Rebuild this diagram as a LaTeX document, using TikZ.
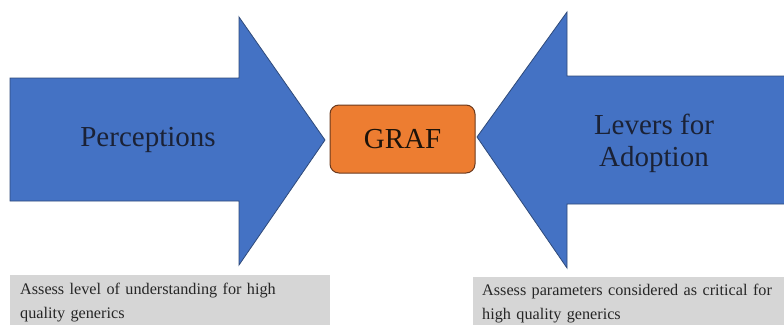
\documentclass[tikz,border=0pt]{standalone}
\usepackage{fontspec}
\setmainfont{Liberation Serif}
\definecolor{arrowblue}{HTML}{4472C4}
\definecolor{arrowedge}{HTML}{2F4A7A}
\definecolor{grafor}{HTML}{ED7D31}
\definecolor{grafedge}{HTML}{6B3A1E}
\definecolor{notegray}{HTML}{D6D6D6}
\definecolor{labelnavy}{HTML}{1B2236}
\tikzset{
  x=1pt, y=-1pt,
  bigarrow/.style={fill=arrowblue, draw=arrowedge, line width=0.8pt, line join=miter},
  arrowlabel/.style={text=labelnavy, font=\fontsize{29}{32}\selectfont, align=center, inner sep=0pt},
  grafbox/.style={fill=grafor, draw=grafedge, line width=1pt, rounded corners=9pt},
  notebox/.style={fill=notegray, draw=none},
  notetext/.style={text=black!85, font=\fontsize{16.2}{24}\selectfont, align=left, anchor=north west, inner sep=0pt, text width=310pt},
}
\begin{document}
\begin{tikzpicture}
\useasboundingbox (0,0) rectangle (784,324);
\fill[white] (0,0) rectangle (784,324);
% left arrow
\draw[bigarrow] (10,78) -- (239,78) -- (239,17) -- (325,140) -- (239,265) -- (239,201) -- (10,201) -- cycle;
\node[arrowlabel] (perc) at (148,140) {Perceptions};
% right arrow
\draw[bigarrow] (786,76) -- (567,76) -- (567,12) -- (477,137) -- (567,268) -- (567,204) -- (786,204) -- cycle;
\node[arrowlabel] (levers) at (654,143) {Levers for\\Adoption};
% GRAF box
\draw[grafbox] (330,105) rectangle (475,173);
\node[arrowlabel, text=black!85!brown] (graf) at (402.5,139) {GRAF};
% note boxes
\fill[notebox] (10,275) rectangle (330,326);
\node[notetext] (noteL) at (20,283) {Assess level of understanding for high\\quality generics};
\fill[notebox] (473,277) rectangle (786,326);
\node[notetext] (noteR) at (482,284) {Assess parameters considered as critical for\\high quality generics};
\end{tikzpicture}
\end{document}
